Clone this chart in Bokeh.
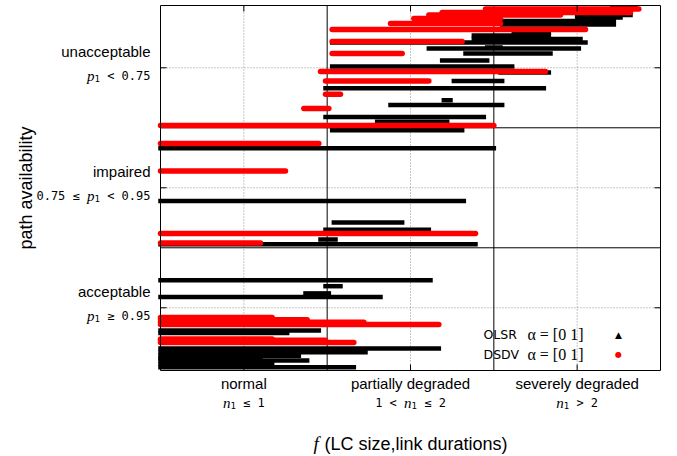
import math

from bokeh.plotting import figure
from bokeh.models import Range1d, Label
from bokeh.embed import file_html
from bokeh.resources import INLINE

# ---------------------------------------------------------------------------
# Observed stretches: each row is one run of samples at a fixed path
# availability level (y), spanning f(LC size, link durations) from x0 to x1.
# ---------------------------------------------------------------------------
olsr_y = [3.00, 2.94, 2.92, 2.89, 2.86, 2.79, 2.77, 2.74, 2.71, 2.67,
          2.66, 2.62, 2.56, 2.51, 2.46, 2.39, 2.33, 2.23, 2.19, 2.09,
          2.05, 1.98, 1.83, 1.39, 1.21, 1.15, 1.07, 1.03, 0.73, 0.68,
          0.62, 0.59, 0.31, 0.29, 0.16, 0.13, 0.10, 0.08, 0.06, 0.03,
          0.005]
olsr_x0 = [2.71, 2.50, 2.50, 2.04, 2.05, 2.12, 1.88, 1.88, 1.03, 1.96,
           1.61, 1.83, 1.69, 1.03, 2.04, 1.76, 0.99, 1.70, 1.38, 0.99,
           1.30, 1.03, 0.00, 0.00, 1.04, 0.99, 0.96, 0.00, 0.00, 0.99,
           0.87, 0.00, 0.00, 0.00, 0.00, 0.00, 0.00, 0.00, 0.00, 0.00,
           0.00]
olsr_x1 = [2.85, 2.82, 2.76, 2.72, 2.72, 2.33, 2.33, 2.52, 2.55, 2.04,
           2.51, 2.34, 1.96, 2.11, 2.33, 2.05, 2.30, 1.74, 2.05, 1.94,
           1.72, 1.81, 2.00, 1.82, 1.45, 1.61, 1.05, 1.89, 1.62, 1.08,
           1.01, 1.32, 0.95, 0.76, 1.67, 1.23, 0.83, 0.60, 0.88, 0.67,
           1.16]

dsdv_y = [2.99, 2.96, 2.94, 2.91, 2.87, 2.82, 2.72, 2.62, 2.47, 2.39,
          2.28, 2.16, 2.02, 1.87, 1.64, 1.12, 1.04, 0.42, 0.40, 0.38,
          0.36, 0.24, 0.23, 0.21]
dsdv_x0 = [1.95, 1.69, 1.61, 1.52, 1.38, 1.03, 1.03, 1.03, 0.96, 0.99,
           0.99, 0.86, 0.00, 0.00, 0.00, 0.00, 0.00, 0.00, 0.00, 0.00,
           0.00, 0.00, 0.00, 0.00]
dsdv_x1 = [2.87, 2.82, 2.40, 2.04, 2.04, 2.55, 1.81, 1.45, 2.31, 1.61,
           1.08, 1.01, 2.00, 0.95, 0.75, 1.89, 0.60, 0.67, 0.88, 1.22,
           1.67, 0.67, 0.99, 1.16]

# Category ticks and their labels
x_ticks = [0.5, 1.5, 2.5]
x_names = ["normal", "partially degraded", "severely degraded"]
x_conds = [
    [("ital", "n"), ("sub", "1"), ("mono", " \u2264 1")],
    [("mono", "1 < "), ("ital", "n"), ("sub", "1"), ("mono", " \u2264 2")],
    [("ital", "n"), ("sub", "1"), ("mono", " > 2")],
]
y_ticks = [0.5, 1.5, 2.5]
y_names = ["acceptable", "impaired", "unacceptable"]
y_conds = [
    [("ital", "p"), ("sub", "1"), ("mono", " \u2265 0.95")],
    [("mono", "0.75 \u2264 "), ("ital", "p"), ("sub", "1"), ("mono", " < 0.95")],
    [("ital", "p"), ("sub", "1"), ("mono", " < 0.75")],
]
class_bounds = [1, 2]

series_names = ["OLSR", "DSDV"]
series_params = ["\u03b1 = [0 1]", "\u03b1 = [0 1]"]

# ---------------------------------------------------------------------------
# The canvas is used as one frame; the plotting box sits inside it so that
# all captions can be placed freely around the box.
W, H = 677, 456
BOX_L, BOX_R, BOX_T, BOX_B = 160, 660, 5, 370
X_MIN, X_MAX = 0.0, 3.0
Y_MIN, Y_MAX = -0.0225, 3.019
XU = (BOX_R - BOX_L) / (X_MAX - X_MIN)      # px per x unit
YU = (BOX_B - BOX_T) / (Y_MAX - Y_MIN)      # px per y unit

p = figure(width=W, height=H,
           x_range=Range1d(X_MIN - BOX_L / XU, X_MAX + (W - BOX_R) / XU),
           y_range=Range1d(Y_MIN - (H - BOX_B) / YU, Y_MAX + BOX_T / YU),
           x_axis_type=None, y_axis_type=None,
           output_backend="svg", toolbar_location=None,
           min_border=0)
p.background_fill_color = "white"
p.border_fill_color = "white"
p.outline_line_color = None
p.xgrid.visible = False
p.ygrid.visible = False

# Dotted grid at the category centres
p.segment(x0=x_ticks, y0=[Y_MIN] * 3, x1=x_ticks, y1=[Y_MAX] * 3,
          line_color="#8c8c8c", line_dash="1 2", line_width=1)
p.segment(x0=[X_MIN] * 3, y0=y_ticks, x1=[X_MAX] * 3, y1=y_ticks,
          line_color="#8c8c8c", line_dash="1 2", line_width=1)

# Solid class boundaries
p.segment(x0=class_bounds, y0=[Y_MIN] * 2, x1=class_bounds, y1=[Y_MAX] * 2,
          line_color="black", line_width=1)
p.segment(x0=[X_MIN] * 2, y0=class_bounds, x1=[X_MAX] * 2, y1=class_bounds,
          line_color="black", line_width=1)

# Runs of samples (marker rows: triangles for OLSR, dots for DSDV)
p.segment(x0=olsr_x0, y0=olsr_y, x1=olsr_x1, y1=olsr_y,
          line_color="black", line_width=4.5, line_cap="square")
p.segment(x0=dsdv_x0, y0=dsdv_y, x1=dsdv_x1, y1=dsdv_y,
          line_color="#ff0000", line_width=5.5, line_cap="round")

# Box and inward ticks on all four sides
p.quad(left=[X_MIN], right=[X_MAX], bottom=[Y_MIN], top=[Y_MAX],
       fill_color=None, line_color="black", line_width=1)
TK = 6
p.segment(x0=x_ticks, y0=[Y_MIN] * 3, x1=x_ticks, y1=[Y_MIN + TK / YU] * 3,
          line_color="black", line_width=1)
p.segment(x0=x_ticks, y0=[Y_MAX] * 3, x1=x_ticks, y1=[Y_MAX - TK / YU] * 3,
          line_color="black", line_width=1)
p.segment(x0=[X_MIN] * 3, y0=y_ticks, x1=[X_MIN + TK / XU] * 3, y1=y_ticks,
          line_color="black", line_width=1)
p.segment(x0=[X_MAX] * 3, y0=y_ticks, x1=[X_MAX - TK / XU] * 3, y1=y_ticks,
          line_color="black", line_width=1)

# ---------------------------------------------------------------------------
# Text: tick captions with mixed fonts
SANS = "Liberation Sans"
SERIF = "Liberation Serif"
MONO = "DejaVu Sans Mono"
MONO_PX, SUB_PX, ITAL_PX = 12, 9, 15
ADV = {"mono": 0.602 * MONO_PX, "sub": 0.602 * SUB_PX, "ital": 0.5 * ITAL_PX}
STYLE = {
    "mono": (MONO, MONO_PX, "normal", 0),
    "sub": (MONO, SUB_PX, "normal", -3),
    "ital": (SERIF, ITAL_PX, "italic", 0),
}


def run_width(pieces):
    return sum(ADV[k] * len(t) for k, t in pieces)


def put_run(pieces, x, y, start_px, base_px):
    cursor = start_px
    for kind, text in pieces:
        body = text.strip()
        lead = len(text) - len(text.lstrip())
        if body:
            font, size, style, dy = STYLE[kind]
            p.add_layout(Label(x=x, y=y, x_offset=cursor + lead * ADV[kind],
                               y_offset=base_px + dy, text=body,
                               text_font=font, text_font_size=f"{size}px",
                               text_font_style=style, text_color="black",
                               text_align="left", text_baseline="alphabetic"))
        cursor += ADV[kind] * len(text)


# y-axis captions
Y_CAP_RIGHT = -10
for yt, name, cond in zip(y_ticks, y_names, y_conds):
    p.add_layout(Label(x=X_MIN, y=yt, x_offset=Y_CAP_RIGHT, y_offset=16,
                       text=name, text_font=SANS, text_font_size="15px",
                       text_align="right", text_baseline="middle",
                       text_color="black"))
    put_run(cond, X_MIN, yt, Y_CAP_RIGHT - run_width(cond), -8)

# x-axis captions
for xt, name, cond in zip(x_ticks, x_names, x_conds):
    p.add_layout(Label(x=xt, y=Y_MIN, y_offset=-13, text=name,
                       text_font=SANS, text_font_size="15px",
                       text_align="center", text_baseline="middle",
                       text_color="black"))
    put_run(cond, xt, Y_MIN, -run_width(cond) / 2, -32)

# Axis titles
title_rest = "(LC size,link durations)"
title_w = 5 + 6 + 10.17 * 18
x_mid = (X_MIN + X_MAX) / 2
p.add_layout(Label(x=x_mid, y=Y_MIN, x_offset=-title_w / 2, y_offset=-73,
                   text="f", text_font=SERIF, text_font_size="19px",
                   text_font_style="italic", text_align="left",
                   text_baseline="alphabetic", text_color="black"))
p.add_layout(Label(x=x_mid, y=Y_MIN, x_offset=-title_w / 2 + 11, y_offset=-73,
                   text=title_rest, text_font=SANS, text_font_size="18px",
                   text_align="left", text_baseline="alphabetic",
                   text_color="black"))
p.add_layout(Label(x=X_MIN, y=(Y_MIN + Y_MAX) / 2, x_offset=-135,
                   text="path availability",
                   angle=math.pi / 2, text_font=SANS, text_font_size="18px",
                   text_align="center", text_baseline="middle",
                   text_color="black"))

# Key
key_marks = [("\u25b2", "black", "9px"), ("\u25cf", "#ff0000", "8px")]
for i, (nm, par, mk) in enumerate(zip(series_names, series_params, key_marks)):
    yo = 36 - 20 * i
    p.add_layout(Label(x=X_MAX, y=Y_MIN, x_offset=-177, y_offset=yo, text=nm,
                       text_font="DejaVu Sans", text_font_size="12.5px",
                       text_align="left", text_baseline="middle",
                       text_color="black"))
    p.add_layout(Label(x=X_MAX, y=Y_MIN, x_offset=-77, y_offset=yo, text=par,
                       text_font=SERIF, text_font_size="16px",
                       text_align="right", text_baseline="middle",
                       text_color="black"))
    p.add_layout(Label(x=X_MAX, y=Y_MIN, x_offset=-42, y_offset=yo, text=mk[0],
                       text_font="DejaVu Sans", text_font_size=mk[2],
                       text_align="center", text_baseline="middle",
                       text_color=mk[1]))

open("out.html", "w").write(file_html(p, INLINE))
